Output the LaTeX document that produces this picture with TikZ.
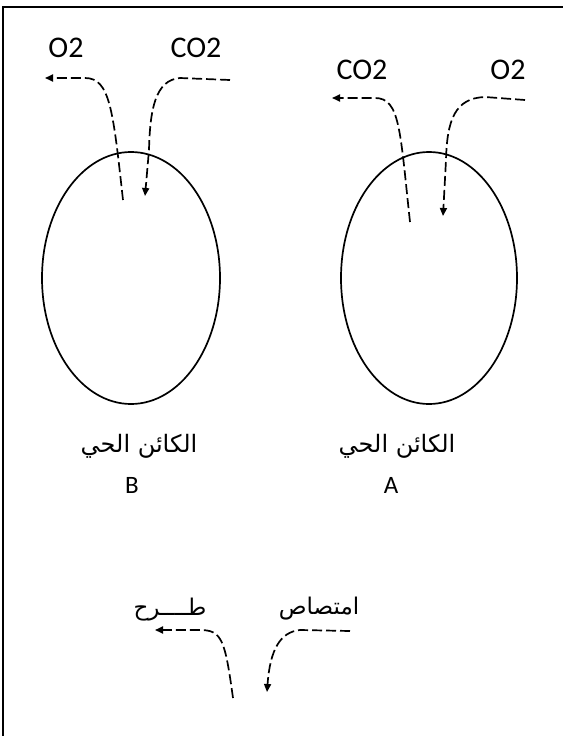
\documentclass[tikz,border=0pt]{standalone}
\usepackage{fontspec}
\setmainfont{Carlito}
\newfontfamily\arabicfont[Script=Arabic]{DejaVu Sans}
\TeXXeTstate=1
\usetikzlibrary{arrows.meta}
\tikzset{
  flow/.style={line width=1.7pt, dash pattern=on 10pt off 4pt, -{Triangle[length=8pt,width=7pt]}},
  cell/.style={draw, line width=1.7pt},
  gas/.style={inner sep=0pt, font=\fontsize{30}{34}\selectfont},
  tag/.style={inner sep=0pt, font=\fontsize{25}{28}\selectfont},
  ar/.style={inner sep=0pt, font=\arabicfont\fontsize{24}{28}\selectfont},
  arsmall/.style={inner sep=0pt, font=\arabicfont\fontsize{23}{26}\selectfont},
  frame/.style={line width=2.2pt}
}
\begin{document}
\begin{tikzpicture}[x=1pt,y=-1pt]
\useasboundingbox (0,0) rectangle (563,736);
\fill[white] (0,0) rectangle (563,736);
% frame (top and left edges)
\coordinate (fbl) at (3,736);
\coordinate (ftl) at (3,7);
\coordinate (ftr) at (563,7);
\draw[frame] (fbl) -- (ftl) -- (ftr);

% organisms
\draw[cell] (131,278) ellipse [x radius=89, y radius=126];
\draw[cell] (429,278) ellipse [x radius=88, y radius=126];

% labels top
\node[gas] (bO2) at (66,48) {O2};
\node[gas] (bCO2) at (196,48) {CO2};
\node[gas] (aCO2) at (362,70) {CO2};
\node[gas] (aO2) at (508,70) {O2};

% organism B arrows
\coordinate (bouts) at (123,200);
\coordinate (boute) at (45,78);
\draw[flow] (bouts) .. controls (113,110) and (110,78) .. (85,78) -- (boute);
\coordinate (bins) at (230,80);
\coordinate (bine) at (145,196);
\draw[flow] (bins) -- (180,78) .. controls (155,80) and (150,110) .. (149,150) -- (bine);

% organism A arrows
\coordinate (aouts) at (410,222);
\coordinate (aoute) at (332,98);
\draw[flow] (aouts) .. controls (400,130) and (400,98) .. (375,98) -- (aoute);
\coordinate (ains) at (525,100);
\coordinate (aine) at (443,216);
\draw[flow] (ains) -- (485,97) .. controls (455,98) and (447,120) .. (446,160) -- (aine);

% names
\node[ar] (bname) at (139,446) {\beginR الكائن الحي\endR};
\node[tag] (bB) at (132,485) {B};
\node[ar] (aname) at (397,446) {\beginR الكائن الحي\endR};
\node[tag] (aA) at (391,485) {A};

% legend
\node[arsmall] (out) at (170,610) {\beginR طــــرح\endR};
\node[arsmall] (in) at (319,609) {\beginR امتصاص\endR};
\coordinate (louts) at (233,698);
\coordinate (loute) at (155,630);
\draw[flow] (louts) .. controls (225,640) and (222,630) .. (200,630) -- (loute);
\coordinate (lins) at (350,631);
\coordinate (line) at (267,692);
\draw[flow] (lins) -- (300,630) .. controls (280,632) and (270,650) .. (line);
\end{tikzpicture}
\end{document}
